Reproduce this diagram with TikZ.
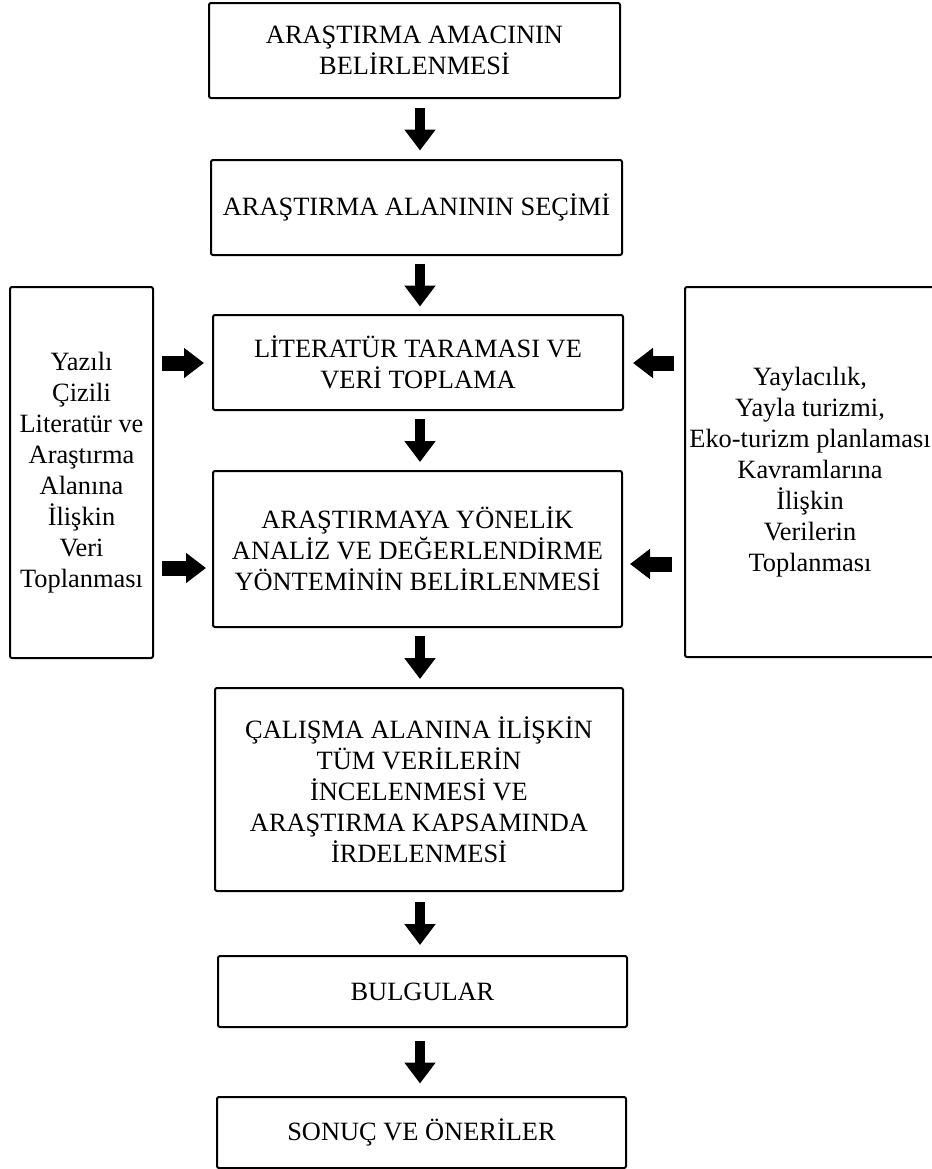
\documentclass[tikz,border=0pt]{standalone}
\usepackage{fontspec}
\setmainfont{Liberation Serif}
\usetikzlibrary{arrows.meta}

\begin{document}
\begin{tikzpicture}[x=0.5pt, y=-0.5pt,
	box/.style={draw, line width=1pt, rounded corners=1pt, align=center, inner sep=0pt,
		font=\fontsize{13.2pt}{15.5pt}\selectfont},
	down/.style={line width=4.75pt, -{Triangle[width=15pt,length=10.5pt]}},
	side/.style={line width=7.5pt, -{Triangle[width=14.5pt,length=10pt]}}]
	\useasboundingbox (0,0) rectangle (932,1169);
	\clip (0,0) rectangle (932,1169);
	\coordinate (axis) at (420,0);
	%% Boxes ------
	\node[box, minimum width=205.5pt, minimum height=47.5pt] (amac) at (414.5,50.5) {ARAŞTIRMA AMACININ\\BELİRLENMESİ};
	\node[box, minimum width=205.5pt, minimum height=47.5pt] (alan) at (416.5,207.5) {ARAŞTIRMA ALANININ SEÇİMİ};
	\node[box, minimum width=205pt, minimum height=47.5pt] (lit) at (418,362.5) {LİTERATÜR TARAMASI VE\\VERİ TOPLAMA};
	\node[box, minimum width=204.5pt, minimum height=78pt] (yontem) at (417.5,549) {ARAŞTIRMAYA YÖNELİK\\ANALİZ VE DEĞERLENDİRME\\YÖNTEMİNİN BELİRLENMESİ};
	\node[box, minimum width=204pt, minimum height=101.5pt] (inceleme) at (419,789.5) {ÇALIŞMA ALANINA İLİŞKİN\\TÜM VERİLERİN\\İNCELENMESİ VE\\ARAŞTIRMA KAPSAMINDA\\İRDELENMESİ};
	\node[box, minimum width=204.5pt, minimum height=35.5pt] (bulgu) at (422.5,991.5) {BULGULAR};
	\node[box, minimum width=204.5pt, minimum height=35.5pt] (sonuc) at (421.5,1132.5) {SONUÇ VE ÖNERİLER};
	\node[box, minimum width=71.5pt, minimum height=185.5pt] (sol) at (81.5,472.5) {Yazılı\\Çizili\\Literatür ve\\Araştırma\\Alanına\\İlişkin\\Veri\\Toplanması};
	\node[box, minimum width=125pt, minimum height=185pt] (sag) at (810,472) {Yaylacılık,\\Yayla turizmi,\\Eko-turizm planlaması\\Kavramlarına\\İlişkin\\Verilerin\\Toplanması};
	%% Arrows ---------
	\foreach \a/\b/\s in {amac/alan/4.25pt, alan/lit/3.75pt, lit/yontem/4pt, yontem/inceleme/4pt, inceleme/bulgu/5pt, bulgu/sonuc/6.25pt}
		\draw[down, shorten <=\s, shorten >=\s] (\a.south -| axis) -- (\b.north -| axis);
	\draw[side, shorten <=4pt, shorten >=4pt] (sol.east |- 0,363) -- (lit.west |- 0,363);
	\draw[side, shorten <=4pt, shorten >=3pt] (sol.east |- 0,568) -- (yontem.west |- 0,568);
	\draw[side, shorten <=5pt, shorten >=4.5pt] (sag.west |- 0,363) -- (lit.east |- 0,363);
	\draw[side, shorten <=6pt, shorten >=3.5pt] (sag.west |- 0,564) -- (yontem.east |- 0,564);
\end{tikzpicture}
\end{document}
